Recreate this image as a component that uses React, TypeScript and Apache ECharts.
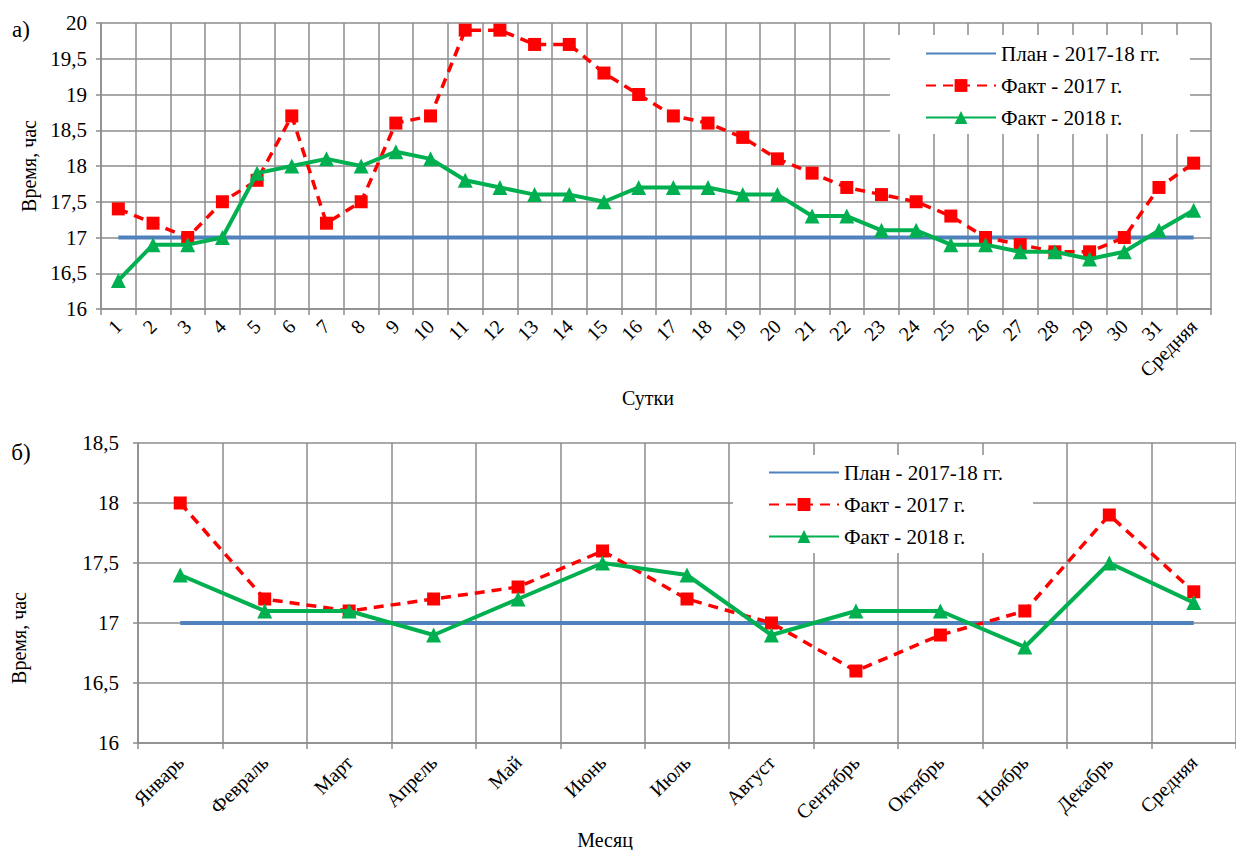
import React, { useEffect, useRef } from "react";
import * as echarts from "echarts";

// Daily chart (а): days of month plus average
const dayLabels = [
  "1", "2", "3", "4", "5", "6", "7", "8", "9", "10", "11", "12", "13", "14", "15", "16",
  "17", "18", "19", "20", "21", "22", "23", "24", "25", "26", "27", "28", "29", "30", "31", "Средняя",
];
const dayPlan = [
  17, 17, 17, 17, 17, 17, 17, 17, 17, 17, 17, 17, 17, 17, 17, 17,
  17, 17, 17, 17, 17, 17, 17, 17, 17, 17, 17, 17, 17, 17, 17, 17,
];
const dayFact2017 = [
  17.4, 17.2, 17.0, 17.5, 17.8, 18.7, 17.2, 17.5, 18.6, 18.7, 19.9, 19.9, 19.7, 19.7, 19.3, 19.0,
  18.7, 18.6, 18.4, 18.1, 17.9, 17.7, 17.6, 17.5, 17.3, 17.0, 16.9, 16.8, 16.8, 17.0, 17.7, 18.04,
];
const dayFact2018 = [
  16.4, 16.9, 16.9, 17.0, 17.9, 18.0, 18.1, 18.0, 18.2, 18.1, 17.8, 17.7, 17.6, 17.6, 17.5, 17.7,
  17.7, 17.7, 17.6, 17.6, 17.3, 17.3, 17.1, 17.1, 16.9, 16.9, 16.8, 16.8, 16.7, 16.8, 17.1, 17.38,
];

// Monthly chart (б): months plus average
const monthLabels = [
  "Январь", "Февраль", "Март", "Апрель", "Май", "Июнь", "Июль",
  "Август", "Сентябрь", "Октябрь", "Ноябрь", "Декабрь", "Средняя",
];
const monthPlan = [17, 17, 17, 17, 17, 17, 17, 17, 17, 17, 17, 17, 17];
const monthFact2017 = [18.0, 17.2, 17.1, 17.2, 17.3, 17.6, 17.2, 17.0, 16.6, 16.9, 17.1, 17.9, 17.26];
const monthFact2018 = [17.4, 17.1, 17.1, 16.9, 17.2, 17.5, 17.4, 16.9, 17.1, 17.1, 16.8, 17.5, 17.17];

const seriesNames = ["План - 2017-18 гг.", "Факт - 2017 г.", "Факт - 2018 г."];

const FONT = "Liberation Serif";
const GRID_COLOR = "#8c8c8c";
const BLUE = "#4f81bd";
const RED = "#ff0000";
const GREEN = "#00b050";

const commaFmt = (v: number) => String(v).replace(".", ",");

function makeXAxis(gridIndex: number, data: string[], margin: number) {
  return {
    type: "category",
    gridIndex,
    data,
    boundaryGap: true,
    axisLine: { show: true, lineStyle: { color: GRID_COLOR, width: 1.5 } },
    axisTick: { show: true, length: 6, lineStyle: { color: GRID_COLOR, width: 1.5 } },
    axisLabel: {
      interval: 0,
      rotate: 45,
      margin,
      color: "#000",
      fontFamily: FONT,
      fontSize: 20,
    },
    splitLine: { show: true, lineStyle: { color: GRID_COLOR, width: 1.5 } },
  };
}

function makeYAxis(gridIndex: number, max: number, margin: number) {
  return {
    type: "value",
    gridIndex,
    min: 16,
    max,
    interval: 0.5,
    axisLine: { show: true, lineStyle: { color: GRID_COLOR, width: 1.5 } },
    axisTick: { show: true, length: 5, lineStyle: { color: GRID_COLOR, width: 1.5 } },
    axisLabel: {
      margin,
      color: "#000",
      fontFamily: FONT,
      fontSize: 21,
      formatter: commaFmt,
    },
    splitLine: { show: true, lineStyle: { color: GRID_COLOR, width: 1.5 } },
  };
}

function makeSeries(idx: number, plan: number[], f17: number[], f18: number[]) {
  return [
    {
      name: seriesNames[0],
      type: "line",
      xAxisIndex: idx,
      yAxisIndex: idx,
      data: plan,
      symbol: "none",
      color: BLUE,
      lineStyle: { color: BLUE, width: 4 },
      z: 2,
    },
    {
      name: seriesNames[1],
      type: "line",
      xAxisIndex: idx,
      yAxisIndex: idx,
      data: f17,
      symbol: "rect",
      symbolSize: 13,
      color: RED,
      itemStyle: { color: RED },
      lineStyle: { color: RED, width: 3.5, type: [10, 7] },
      z: 3,
    },
    {
      name: seriesNames[2],
      type: "line",
      xAxisIndex: idx,
      yAxisIndex: idx,
      data: f18,
      symbol: "triangle",
      symbolSize: 15,
      color: GREEN,
      itemStyle: { color: GREEN },
      lineStyle: { color: GREEN, width: 4 },
      z: 4,
    },
  ];
}

function makeLegend(left: number, top: number, padding: number[]) {
  return {
    orient: "vertical",
    left,
    top,
    data: [
      { name: seriesNames[0], itemStyle: { opacity: 0 } },
      { name: seriesNames[1] },
      { name: seriesNames[2] },
    ],
    itemWidth: 70,
    itemHeight: 16,
    itemGap: 11,
    padding,
    backgroundColor: "#ffffff",
    selectedMode: false,
    textStyle: { color: "#000", fontFamily: FONT, fontSize: 21, lineHeight: 20 },
    z: 10,
  };
}

const textStyle = (text: string, size = 20) => ({
  text,
  fill: "#000",
  fontFamily: FONT,
  fontSize: size,
  align: "center",
  verticalAlign: "middle",
});

export default function App() {
  const ref = useRef<HTMLDivElement>(null);

  useEffect(() => {
    if (!ref.current) return;
    const chart = echarts.init(ref.current, undefined, { renderer: "svg" });
    chart.setOption({
      animation: false,
      backgroundColor: "#ffffff",
      textStyle: { fontFamily: FONT },
      grid: [
        { left: 101, top: 23, right: 25, bottom: 541 },
        { left: 138, top: 443, right: -11, bottom: 107 },
      ],
      xAxis: [makeXAxis(0, dayLabels, 14), makeXAxis(1, monthLabels, 16)],
      yAxis: [makeYAxis(0, 20, 14), makeYAxis(1, 18.5, 19)],
      legend: [makeLegend(890, 35, [8, 30, 6, 35]), makeLegend(733, 455, [7, 30, 6, 35])],
      series: [
        ...makeSeries(0, dayPlan, dayFact2017, dayFact2018),
        ...makeSeries(1, monthPlan, monthFact2017, monthFact2018),
      ],
      graphic: [
        { type: "text", x: 21, y: 29, style: textStyle("а)", 23) },
        { type: "text", x: 21, y: 452, style: textStyle("б)", 23) },
        { type: "text", x: 29, y: 166, rotation: Math.PI / 2, style: textStyle("Время, час") },
        { type: "text", x: 19, y: 638, rotation: Math.PI / 2, style: textStyle("Время, час") },
        { type: "text", x: 648, y: 398, style: textStyle("Сутки") },
        { type: "text", x: 605, y: 840, style: textStyle("Месяц") },
      ],
    });
    return () => chart.dispose();
  }, []);

  return (
    <div
      ref={ref}
      style={{ position: "fixed", left: 0, top: 0, width: 1236, height: 850, background: "#fff" }}
    />
  );
}
